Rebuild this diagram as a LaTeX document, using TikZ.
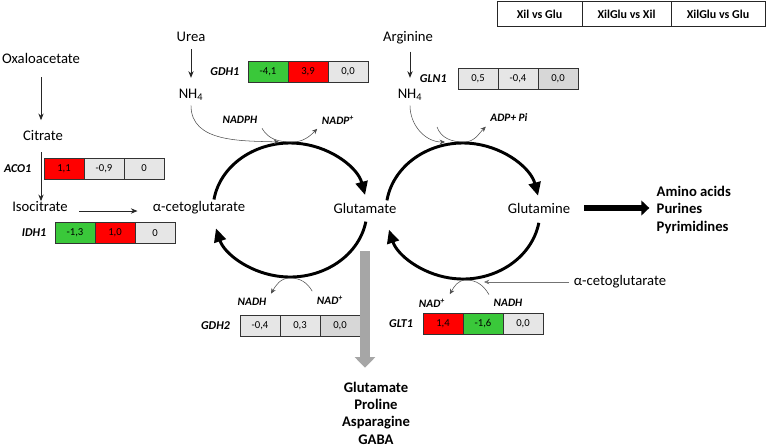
\documentclass[tikz,border=0pt]{standalone}
\usepackage{fontspec}
\setmainfont{Carlito}
\usetikzlibrary{arrows.meta, positioning}

\definecolor{upred}{RGB}{255,0,0}
\definecolor{downgreen}{RGB}{58,200,58}
\definecolor{nsgray}{RGB}{230,230,230}
\definecolor{nsdark}{RGB}{215,215,215}

\tikzset{
  val/.style={draw=black!80, outer sep=0pt, minimum width=30pt, minimum height=16pt, inner sep=0pt, font=\fontsize{8}{9}\selectfont},
  up/.style={val, fill=upred},
  down/.style={val, fill=downgreen},
  ns/.style={val, fill=nsgray},
  nsd/.style={val, fill=nsdark},
  head/.style={draw=black!85, outer sep=0pt, minimum height=18.5pt, inner sep=0pt, font=\fontsize{9}{10}\selectfont\bfseries},
  gene/.style={font=\fontsize{9}{10}\selectfont\bfseries\itshape},
  cof/.style={font=\fontsize{8.5}{10}\selectfont\bfseries\itshape},
  met/.style={font=\fontsize{11}{13}\selectfont},
  prodtxt/.style={font=\fontsize{11}{13}\selectfont\bfseries},
  arr/.style={black!85, line width=0.6pt, -{Stealth[length=5pt, width=4pt]}},
  side/.style={black!70, line width=0.4pt, -{Stealth[length=4pt, width=3.5pt]}},
  cyc/.style={line width=2.2pt, -{Triangle[length=10pt, width=9pt]}},
}

\begin{document}
\begin{tikzpicture}[x=0.75pt, y=-0.75pt]
\useasboundingbox (0,0) rectangle (766,447);

% header
\node[head, minimum width=63.75pt] (h1) at (539.5,14) {Xil vs Glu};
\node[head, minimum width=66.75pt, right=0pt of h1] (h2) {XilGlu vs Xil};
\node[head, minimum width=70.5pt, right=0pt of h2] (h3) {XilGlu vs Glu};

% metabolites
\node[met] (oxalo) at (41,58) {Oxaloacetate};
\node[met] (citrate) at (43,136) {Citrate};
\node[met] (iso) at (40,207) {Isocitrate};
\node[met] (akg) at (199,208) {α-cetoglutarate};
\node[met] (glu) at (365,208) {Glutamate};
\node[met] (gln) at (539,208) {Glutamine};
\node[met] (urea) at (191,37) {Urea};
\node[met] (nhA) at (191,95) {NH\textsubscript{4}};
\node[met] (arg) at (408,38) {Arginine};
\node[met] (nhB) at (410,95) {NH\textsubscript{4}};
\node[met] (akgB) at (620,282) {α-cetoglutarate};

\node[prodtxt, anchor=west, align=left] (amino) at (652,210) {Amino acids\\Purines\\Pyrimidines};
\node[prodtxt, align=center] (prod) at (376,413) {Glutamate\\Proline\\Asparagine\\GABA};

% cofactors
\node[cof] (nadph) at (240,120) {NADPH};
\node[cof] (nadpp) at (338,120) {NADP\textsuperscript{+}};
\node[cof] (adp) at (509,118) {ADP+ Pi};
\node[cof] (nadhA) at (252,302) {NADH};
\node[cof] (nadA) at (330,300) {NAD\textsuperscript{+}};
\node[cof] (nadB) at (432,303) {NAD\textsuperscript{+}};
\node[cof] (nadhB) at (508,303) {NADH};

% fold changes
\node[up, anchor=west] (aco1a) at (44,168.5) {1,1};
\node[ns, right=0pt of aco1a] (aco1b) {-0,9};
\node[ns, right=0pt of aco1b] (aco1c) {0};
\node[gene, left=6pt of aco1a] (aco1) {ACO1};

\node[down, anchor=west] (idh1a) at (55,233) {-1,3};
\node[up, right=0pt of idh1a] (idh1b) {1,0};
\node[ns, right=0pt of idh1b] (idh1c) {0};
\node[gene, left=3pt of idh1a] (idh1) {IDH1};

\node[down, anchor=west] (gdh1a) at (248,71.5) {-4,1};
\node[up, right=0pt of gdh1a] (gdh1b) {3,9};
\node[ns, right=0pt of gdh1b] (gdh1c) {0,0};
\node[gene, left=3pt of gdh1a] (gdh1) {GDH1};

\node[ns, anchor=west] (gln1a) at (458,79) {0,5};
\node[ns, right=0pt of gln1a] (gln1b) {-0,4};
\node[nsd, right=0pt of gln1b] (gln1c) {0,0};
\node[gene, left=5pt of gln1a] (gln1) {GLN1};

\node[ns, anchor=west] (gdh2a) at (240,326) {-0,4};
\node[ns, right=0pt of gdh2a] (gdh2b) {0,3};
\node[nsd, right=0pt of gdh2b] (gdh2c) {0,0};
\node[gene, left=4pt of gdh2a] (gdh2) {GDH2};

\node[up, anchor=west] (glt1a) at (423,324) {1,4};
\node[down, right=0pt of glt1a] (glt1b) {-1,6};
\node[ns, right=0pt of glt1b] (glt1c) {0,0};
\node[gene, left=4pt of glt1a] (glt1) {GLT1};

% points on the two cycles
\coordinate (lc) at (290,210);
\coordinate (rc) at (463,211);
\coordinate (ltop) at (292,142);
\coordinate (lin) at (279,142);
\coordinate (lbot) at (290,278);
\coordinate (rtop) at (464,142);
\coordinate (rin) at (445,142);
\coordinate (rbot) at (466,280);
\coordinate (rsrc) at (437,127);
\coordinate (rcut) at (484,282);

% cycles
\draw[cyc] (lc) ++(171:57.75pt and 50.25pt) arc[start angle=171, end angle=13, x radius=57.75pt, y radius=50.25pt];
\draw[cyc] (lc) ++(-10:57.75pt and 50.25pt) arc[start angle=-10, end angle=-164, x radius=57.75pt, y radius=50.25pt];
\draw[cyc] (rc) ++(171:57.75pt and 51pt) arc[start angle=171, end angle=13, x radius=57.75pt, y radius=51pt];
\draw[cyc] (rc) ++(-10:57.75pt and 51pt) arc[start angle=-10, end angle=-164, x radius=57.75pt, y radius=51pt];

% straight arrows
\draw[arr, shorten <=7pt, shorten >=4.5pt] (oxalo.south) -- (oxalo.south |- citrate.north);
\draw[arr, shorten <=5pt, shorten >=-3pt] (oxalo.south |- citrate.south) -- (oxalo.south |- iso.north);
\draw[arr, shorten <=5pt, shorten >=8pt, transform canvas={yshift=-3pt}] (iso.east) -- (iso.east -| akg.west);
\draw[arr, shorten <=2pt, shorten >=5pt] (urea) -- (nhA);
\draw[arr, shorten <=2pt, shorten >=5pt] (nhB.north |- arg.south) -- (nhB.north);

% side reactions
\draw[side] (nhA.south) to[out=-90, in=178] (lin);
\draw[side] (nadph.south east) to[out=-60, in=180] (ltop) to[out=0, in=-135] (nadpp.south west);
\draw[side] (nhB.south) to[out=-90, in=180] (rin);
\draw[side] (rsrc) to[out=-70, in=180] (rtop) to[out=0, in=-135] (adp.south west);
\draw[side] (nadA.north west) to[out=120, in=0] (lbot) to[out=180, in=60] (nadhA.north east);
\draw[side] (nadhB.north west) to[out=120, in=0] (rbot) to[out=180, in=60] (nadB.north east);
\draw[side, black!55] (akgB.west) -- (rcut);

% outputs
\draw[line width=4.5pt, -{Triangle[length=6pt, width=11pt]}, shorten <=7pt, shorten >=2pt] (gln.east) -- (gln.east -| amino.west);
\draw[line width=7.5pt, black!35, -{Triangle[length=8pt, width=15pt]}, shorten <=25pt, shorten >=7pt] (glu.south) -- (glu.south |- prod.north);
\end{tikzpicture}
\end{document}
